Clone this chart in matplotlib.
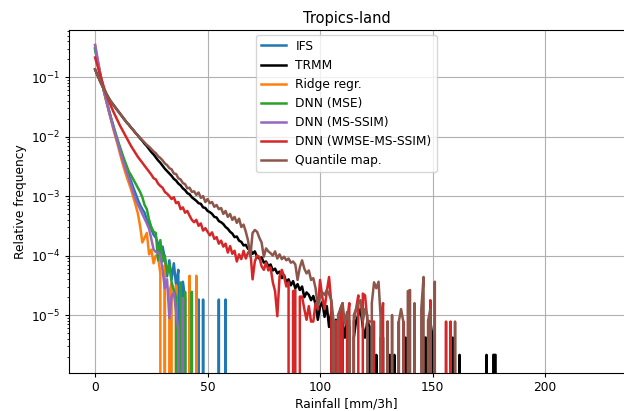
import numpy as np
import matplotlib
matplotlib.use("Agg")
import matplotlib.pyplot as plt

N = None
# log10(relative frequency) per 1 mm/3h bin, starting at 0; None = empty bin
ifs_log = [
    -0.52, -0.73, -0.92, -1.09, -1.25, -1.40, -1.55, -1.69, -1.82, -1.95,
    -2.08, -2.20, -2.32, -2.43, -2.54, -2.65, -2.75, -2.86, -2.96, -3.06,
    -3.15, -3.22, -3.28, -3.40, -3.50, -3.55, -3.65, -3.70, -3.80, -3.95,
    -3.85, -4.05, -4.35, -4.08, -4.40, -4.13, -4.50, -4.24, N, -4.44,
    -4.74, N, N, N, N, N, -4.74, N, -4.74, N,
    N, N, N, N, N, -4.74, N, N, -4.74, N,
]
trmm_log = [
    -0.87, -0.96, -1.05, -1.13, -1.21, -1.28, -1.35, -1.41, -1.46, -1.51,
    -1.56, -1.61, -1.66, -1.71, -1.76, -1.80, -1.85, -1.89, -1.94, -1.98,
    -2.03, -2.07, -2.12, -2.16, -2.21, -2.26, -2.30, -2.35, -2.40, -2.44,
    -2.49, -2.54, -2.58, -2.62, -2.66, -2.71, -2.74, -2.79, -2.82, -2.87,
    -2.90, -2.95, -2.97, -3.02, -3.05, -3.08, -3.12, -3.13, -3.19, -3.20,
    -3.25, -3.27, -3.30, -3.35, -3.36, -3.42, -3.44, -3.47, -3.52, -3.55,
    -3.60, -3.63, -3.69, -3.68, -3.75, -3.77, -3.83, -3.82, -3.89, -3.90,
    -3.97, -3.93, -4.02, -4.05, -4.03, -4.12, -4.10, -4.18, -4.15, -4.25,
    -4.22, -4.30, -4.27, -4.38, -4.33, -4.45, -4.40, -4.50, -4.43, -4.55,
    -4.48, -4.58, -4.52, -4.70, -4.62, -4.66, -4.75, -4.68, -4.82, -5.08,
    -4.86, -4.78, -5.03, -4.85, -5.20, -4.95, N, -5.08, -5.20, N,
    -5.10, -5.38, -5.10, -5.20, N, -5.38, -5.10, -5.00, -4.90, -5.20,
    -5.38, -5.10, -5.20, N, N, -5.67, N, -5.38, -5.38, N,
    N, -5.67, N, -5.67, N, N, N, N, -5.38, N,
    N, N, N, N, N, N, -5.38, -5.38, N, -5.10,
    -5.38, N, N, N, N, N, N, N, N, -5.38,
    N, N, -5.67, N, N, N, N, N, N, N,
    N, N, N, N, -5.67, N, N, -5.67, -5.67, N,
]
ridge_log = [
    -0.46, -0.68, -0.88, -1.07, -1.25, -1.41, -1.56, -1.71, -1.86, -2.00,
    -2.13, -2.28, -2.42, -2.55, -2.67, -2.78, -2.89, -3.02, -3.15, -3.29,
    -3.50, -3.78, -3.70, -3.62, -3.98, -3.90, -4.13, -4.00, -4.02, -4.30,
    N, -4.16, N, -4.60, -4.47, N, -4.50, N, N, -4.72,
    N, N, -4.34, N, N, -4.34, N,
]
mse_log = [
    -0.52, -0.72, -0.91, -1.08, -1.24, -1.39, -1.53, -1.67, -1.80, -1.93,
    -2.05, -2.17, -2.28, -2.39, -2.49, -2.59, -2.65, -2.72, -2.79, -2.86,
    -2.93, -3.02, -3.15, -3.22, -3.40, -3.52, -3.60, -3.62, -4.08, -3.74,
    -4.10, -4.00, -4.30, -4.15, -4.45, -4.58, -4.70, N, -4.45, N,
    -4.61, N, N, -4.61, N,
]
msssim_log = [
    -0.46, -0.68, -0.88, -1.06, -1.23, -1.39, -1.54, -1.69, -1.83, -1.97,
    -2.10, -2.23, -2.36, -2.48, -2.59, -2.70, -2.82, -2.94, -3.05, -3.14,
    -3.22, -3.30, -3.38, -3.46, -3.55, -3.72, -3.90, -3.94, -3.95, -3.99,
    -4.25, -4.55, -4.40, -5.05, -4.69, -4.62, -4.95, -5.24, N, -4.72,
    N,
]
wmse_log = [
    -0.67, -0.80, -0.93, -1.06, -1.18, -1.29, -1.39, -1.48, -1.57, -1.65,
    -1.73, -1.81, -1.88, -1.95, -2.02, -2.09, -2.16, -2.22, -2.28, -2.34,
    -2.39, -2.44, -2.49, -2.54, -2.59, -2.64, -2.70, -2.72, -2.79, -2.83,
    -2.86, -2.93, -2.96, -3.00, -3.05, -3.02, -3.12, -3.10, -3.22, -3.19,
    -3.28, -3.25, -3.33, -3.40, -3.44, -3.40, -3.50, -3.46, -3.58, -3.54,
    -3.60, -3.66, -3.61, -3.72, -3.69, -3.80, -3.75, -3.85, -3.80, -3.95,
    -3.84, -3.97, -3.92, -4.10, -3.98, -4.06, -3.92, -4.05, -3.95, -3.92,
    -4.40, -4.10, -4.00, -4.02, -4.18, -4.24, -4.12, -4.25, -4.20, -4.45,
    -4.60, -5.02, -4.35, -4.24, -4.35, -4.52, -4.45, N, -4.60, -4.58,
    N, -4.69, -4.69, -4.90, -5.08, -4.85, -5.11, -5.11, -4.80, -4.90,
    -4.41, -4.70, -4.90, -4.60, -4.36, -4.80, N, -5.10, N, -4.90,
    -4.80, N, -5.11, -4.80, N, -5.11, -4.90, -4.67, N, -4.64,
    -4.67, -5.08, -5.11, -5.11, -5.11, N, N, -5.11, -4.80, N,
    -5.11, N, N, N, N, -5.11, N, -5.11, N, N,
    N, N, N, N, N, N, N, N, N, -4.75,
    N, N, N, N, N, N, -5.11, N, -5.11, N,
]
qmap_log = [
    -0.87, -0.96, -1.05, -1.13, -1.21, -1.28, -1.35, -1.41, -1.46, -1.51,
    -1.56, -1.61, -1.66, -1.71, -1.76, -1.80, -1.85, -1.89, -1.94, -1.98,
    -2.02, -2.06, -2.10, -2.14, -2.17, -2.21, -2.25, -2.28, -2.33, -2.36,
    -2.40, -2.45, -2.48, -2.53, -2.55, -2.62, -2.63, -2.70, -2.72, -2.78,
    -2.80, -2.87, -2.86, -2.93, -2.92, -2.98, -2.94, -3.03, -3.00, -3.10,
    -3.05, -3.12, -3.10, -3.18, -3.15, -3.22, -3.20, -3.30, -3.25, -3.35,
    -3.30, -3.40, -3.35, -3.45, -3.38, -3.52, -3.48, -3.60, -3.75, -4.02,
    -3.62, -3.57, -3.60, -3.70, -3.78, -4.02, -3.88, -3.93, -3.96, -4.00,
    -3.93, -4.05, -3.98, -4.06, -4.02, -4.08, -4.05, -4.12, -4.10, -4.15,
    -4.41, -4.20, -4.08, -4.22, -4.30, -4.25, -4.41, -4.38, -4.55, -4.85,
    -4.70, -4.62, -4.66, -4.58, -4.65, -4.75, -5.10, N, -5.00, -4.90,
    -4.80, -5.14, -4.95, -5.10, N, -5.00, -4.90, -4.80, -4.75, -5.10,
    -4.90, -5.00, N, -4.80, -4.45, -4.55, -4.44, -5.10, N, N,
    -5.11, N, -5.00, N, N, -5.11, -4.90, -5.11, N, -4.60,
    -4.58, N, -4.80, N, N, -4.90, -4.36, N, -5.10, -4.90,
    N, -4.44, N, N, N, N, N, N, N, N,
    -5.11, N, N,
]

labels = ["IFS", "TRMM", "Ridge regr.", "DNN (MSE)", "DNN (MS-SSIM)",
          "DNN (WMSE-MS-SSIM)", "Quantile map."]
series = [ifs_log, trmm_log, ridge_log, mse_log, msssim_log, wmse_log, qmap_log]
colors = ["#1f77b4", "black", "#ff7f0e", "#2ca02c", "#9467bd", "#d62728", "#8c564b"]


def to_freq(logs):
    return np.array([0.0 if v is None else 10.0 ** v for v in logs])


plt.rcParams["font.size"] = 8.8
fig = plt.figure(figsize=(6.24, 4.11), dpi=100)
ax = fig.add_axes([69 / 624, 38 / 411, 555 / 624, 343 / 411])

for lab, logs, col in zip(labels, series, colors):
    ax.plot(np.arange(len(logs)), to_freq(logs), color=col, lw=1.8, label=lab)

ax.set_yscale("log")
ax.set_xlim(-11.6, 235.1)
ax.set_ylim(1.06e-6, 0.62)
ax.grid(True)
ax.spines["right"].set_visible(False)
ax.tick_params(which="major", length=3.1, pad=2.8)
ax.tick_params(which="minor", length=1.8)
ax.set_xlabel("Rainfall [mm/3h]", labelpad=2.5)
ax.set_ylabel("Relative frequency", labelpad=3)
ax.set_title("Tropics-land", pad=5)
ax.legend(loc="upper center", borderaxespad=0.4)

fig.savefig("out.png", dpi=100)
